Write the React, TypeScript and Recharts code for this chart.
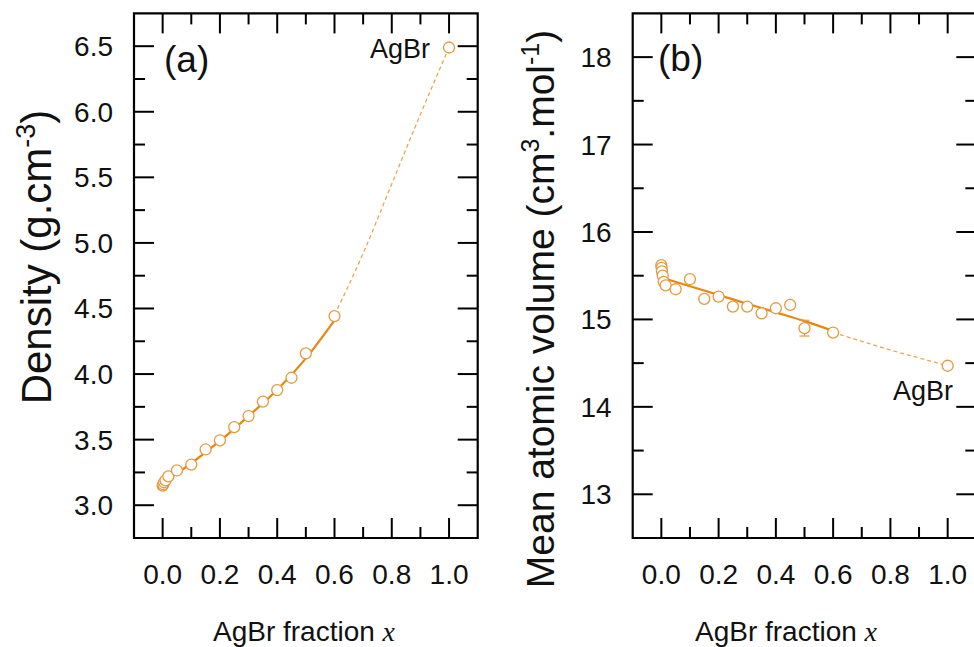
import React from "react";
import {
  ComposedChart,
  XAxis,
  YAxis,
  Scatter,
  Line,
  ReferenceArea,
  ErrorBar,
} from "recharts";

// 共通スタイル
const FONT = '"Liberation Sans", Arial, sans-serif';
const MARK = "#E59A40";
const FIT = "#E8860F";
const EXT = "#EEA552";

// (a) 密度
const DENS_X = [0, 0.002, 0.005, 0.01, 0.02, 0.05, 0.1, 0.15, 0.2, 0.25, 0.3, 0.35, 0.4, 0.45, 0.5, 0.6, 1.0];
const DENS_Y = [3.15, 3.16, 3.175, 3.19, 3.22, 3.265, 3.31, 3.425, 3.495, 3.595, 3.68, 3.79, 3.878, 3.972, 4.158, 4.442, 6.49];
const DENS_FIT_X = [0, 0.1, 0.2, 0.3, 0.4, 0.5, 0.6];
const DENS_FIT_Y = [3.17, 3.32, 3.49, 3.68, 3.88, 4.12, 4.41];
const DENS_EXT_X = [0.6, 0.7, 0.8, 0.9, 1.0];
const DENS_EXT_Y = [4.45, 4.92, 5.45, 5.98, 6.49];

// (b) 平均原子体積
const VOL_X = [0, 0.001, 0.002, 0.005, 0.008, 0.015, 0.05, 0.1, 0.15, 0.2, 0.25, 0.3, 0.35, 0.4, 0.45, 0.5, 0.6, 1.0];
const VOL_Y = [15.62, 15.59, 15.55, 15.5, 15.43, 15.39, 15.345, 15.46, 15.235, 15.26, 15.147, 15.147, 15.07, 15.128, 15.166, 14.9, 14.85, 14.47];
const VOL_ERR = [0, 0, 0, 0, 0, 0, 0, 0, 0, 0, 0, 0, 0, 0, 0, 0.09, 0, 0];
const VOL_FIT_X = [0.02, 0.1, 0.2, 0.3, 0.4, 0.5, 0.59];
const VOL_FIT_Y = [15.46, 15.38, 15.28, 15.18, 15.08, 14.98, 14.88];
const VOL_EXT_X = [0.6, 0.7, 0.8, 0.9, 1.0];
const VOL_EXT_Y = [14.85, 14.75, 14.65, 14.56, 14.47];

// 目盛り
const X_TICKS = [0, 0.1, 0.2, 0.3, 0.4, 0.5, 0.6, 0.7, 0.8, 0.9, 1.0];
const DENS_TICKS = [3, 3.25, 3.5, 3.75, 4, 4.25, 4.5, 4.75, 5, 5.25, 5.5, 5.75, 6, 6.25, 6.5];
const VOL_TICKS = [13, 13.5, 14, 14.5, 15, 15.5, 16, 16.5, 17, 17.5, 18];

const X_DOMAIN = [-0.1, 1.1];
const DENS_DOMAIN = [2.75, 6.75];
const VOL_DOMAIN = [12.5, 18.5];

const H = 647;
const TOP = 13.4;
const BOTTOM = 109;
const PLOT_H = H - TOP - BOTTOM;
const MAJOR = 20;
const MINOR = 11;

const zip = (xs: number[], ys: number[], extra?: number[]) =>
  xs.map((x, i) => ({ x, y: ys[i], err: extra ? extra[i] : 0 }));

function XTick({ x, y, payload }: any) {
  const v = payload.value;
  const major = Math.round(v * 10) % 2 === 0;
  const len = major ? MAJOR : MINOR;
  return (
    <g>
      <line x1={x} y1={y} x2={x} y2={y - len} stroke="#000" strokeWidth={2} />
      <line x1={x} y1={y - PLOT_H} x2={x} y2={y - PLOT_H + len} stroke="#000" strokeWidth={2} />
      {major && (
        <text x={x} y={y + 46} textAnchor="middle" fontFamily={FONT} fontSize={28} fill="#111">
          {v.toFixed(1)}
        </text>
      )}
    </g>
  );
}

function makeYTick(plotW: number, isMajor: (v: number) => boolean, fmt: (v: number) => string) {
  return ({ x, y, payload }: any) => {
    const v = payload.value;
    const major = isMajor(v);
    const len = major ? MAJOR : MINOR;
    return (
      <g>
        <line x1={x} y1={y} x2={x + len} y2={y} stroke="#000" strokeWidth={2} />
        <line x1={x + plotW} y1={y} x2={x + plotW - len} y2={y} stroke="#000" strokeWidth={2} />
        {major && (
          <text x={x - 21} y={y + 10} textAnchor="end" fontFamily={FONT} fontSize={28} fill="#111">
            {fmt(v)}
          </text>
        )}
      </g>
    );
  };
}

const Dot = (p: any) => (
  <circle cx={p.cx} cy={p.cy} r={5.5} fill="#fff" stroke={MARK} strokeWidth={1.3} />
);

interface PanelProps {
  left: number;
  width: number;
  marginLeft: number;
  marginRight: number;
  yDomain: number[];
  yTicks: number[];
  isMajor: (v: number) => boolean;
  fmt: (v: number) => string;
  points: { x: number; y: number; err: number }[];
  fit: { x: number; y: number }[];
  ext: { x: number; y: number }[];
}

function Panel(props: PanelProps) {
  const plotW = props.width - props.marginLeft - props.marginRight;
  // 軸の幅/高さは 1px（0 だと描画されない）
  return (
    <div style={{ position: "absolute", left: props.left, top: 0 }}>
      <ComposedChart
        width={props.width}
        height={H}
        margin={{ top: TOP, right: props.marginRight, bottom: BOTTOM - 1, left: props.marginLeft - 1 }}
      >
        <XAxis
          type="number"
          dataKey="x"
          domain={X_DOMAIN}
          ticks={X_TICKS}
          interval={0}
          height={1}
          tickSize={0}
          tickMargin={0}
          tickLine={false}
          axisLine={false}
          allowDataOverflow
          tick={(p: any) => <XTick {...p} />}
        />
        <YAxis
          type="number"
          dataKey="y"
          domain={props.yDomain}
          ticks={props.yTicks}
          interval={0}
          width={1}
          tickSize={0}
          tickMargin={0}
          tickLine={false}
          axisLine={false}
          allowDataOverflow
          tick={makeYTick(plotW, props.isMajor, props.fmt)}
        />
        <ReferenceArea
          x1={X_DOMAIN[0]}
          x2={X_DOMAIN[1]}
          y1={props.yDomain[0]}
          y2={props.yDomain[1]}
          fill="none"
          fillOpacity={0}
          stroke="#000"
          strokeWidth={2.2}
          strokeOpacity={1}
        />
        <Line
          data={props.ext}
          dataKey="y"
          type="monotone"
          stroke={EXT}
          strokeWidth={1.3}
          strokeDasharray="4 3"
          dot={false}
          isAnimationActive={false}
        />
        <Line
          data={props.fit}
          dataKey="y"
          type="monotone"
          stroke={FIT}
          strokeWidth={2.2}
          dot={false}
          isAnimationActive={false}
        />
        <Scatter data={props.points} dataKey="y" shape={Dot} isAnimationActive={false}>
          <ErrorBar dataKey="err" direction="y" width={5} stroke={MARK} strokeWidth={1.2} />
        </Scatter>
      </ComposedChart>
    </div>
  );
}

const SERIF = '"Liberation Serif", "Times New Roman", serif';

export default function App() {
  return (
    <div
      style={{
        position: "absolute",
        left: 0,
        top: 0,
        width: 974,
        height: H,
        overflow: "hidden",
        background: "#fff",
      }}
    >
      <Panel
        left={0}
        width={490}
        marginLeft={134}
        marginRight={12.3}
        yDomain={DENS_DOMAIN}
        yTicks={DENS_TICKS}
        isMajor={(v) => Math.round(v * 4) % 2 === 0}
        fmt={(v) => v.toFixed(1)}
        points={zip(DENS_X, DENS_Y)}
        fit={zip(DENS_FIT_X, DENS_FIT_Y)}
        ext={zip(DENS_EXT_X, DENS_EXT_Y)}
      />
      <Panel
        left={560}
        width={430}
        marginLeft={72.7}
        marginRight={13.7}
        yDomain={VOL_DOMAIN}
        yTicks={VOL_TICKS}
        isMajor={(v) => Number.isInteger(v)}
        fmt={(v) => String(v)}
        points={zip(VOL_X, VOL_Y, VOL_ERR)}
        fit={zip(VOL_FIT_X, VOL_FIT_Y)}
        ext={zip(VOL_EXT_X, VOL_EXT_Y)}
      />
      {/* 注記・軸タイトル */}
      <svg
        width={974}
        height={H}
        style={{ position: "absolute", left: 0, top: 0, pointerEvents: "none" }}
        fontFamily={FONT}
        fill="#111"
      >
        <text x={164} y={72} fontSize={37}>(a)</text>
        <text x={430} y={58} fontSize={27} textAnchor="end">AgBr</text>
        <text x={658} y={71} fontSize={37}>(b)</text>
        <text x={953} y={400} fontSize={27} textAnchor="end">AgBr</text>

        <text x={304} y={641} fontSize={28} textAnchor="middle">
          AgBr fraction <tspan fontFamily={SERIF} fontStyle="italic">x</tspan>
        </text>
        <text x={786} y={641} fontSize={28} textAnchor="middle">
          AgBr fraction <tspan fontFamily={SERIF} fontStyle="italic">x</tspan>
        </text>

        <text transform="translate(51,257) rotate(-90)" fontSize={42} textAnchor="middle">
          Density (g.cm<tspan dy={-16} fontSize={27}>-3</tspan>
          <tspan dy={16}>)</tspan>
        </text>
        <text transform="translate(554,309) rotate(-90)" fontSize={39} textAnchor="middle">
          Mean atomic volume (cm<tspan dy={-15} fontSize={25}>3</tspan>
          <tspan dy={15}>.mol</tspan>
          <tspan dy={-15} fontSize={25}>-1</tspan>
          <tspan dy={15}>)</tspan>
        </text>
      </svg>
    </div>
  );
}
